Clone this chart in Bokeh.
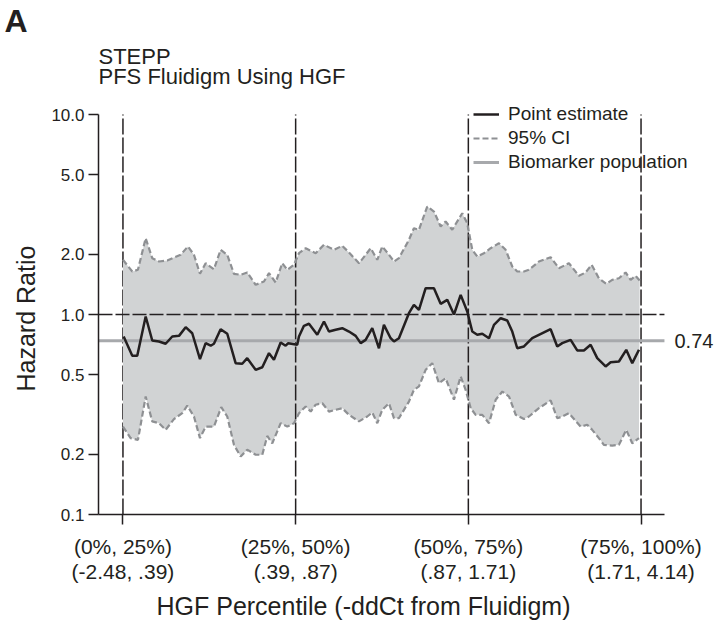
from bokeh.plotting import figure
from bokeh.models import (FixedTicker, Legend, LegendItem, Label, Title,
                          Range1d, PrintfTickFormatter)
from bokeh.embed import file_html
from bokeh.resources import INLINE

# ---------------- data ----------------
# x: subpopulation position on the percentile scale, y: hazard ratio
pe_x = [12.60, 13.85, 14.57, 15.79, 16.74, 17.71, 18.68, 19.64, 20.61, 21.58,
        22.53, 23.65, 24.47, 25.20, 25.67, 26.64, 27.60, 28.81, 29.77, 30.49,
        31.71, 32.67, 33.64, 34.36, 35.33, 36.05, 36.43, 37.73, 37.98, 38.70,
        39.43, 40.63, 41.60, 42.32, 43.29, 44.25, 45.22, 46.19, 46.91, 47.63,
        48.59, 49.56, 50.28, 51.25, 51.73, 52.45, 53.90, 54.62, 55.35, 56.32,
        57.52, 58.49, 59.45, 60.42, 61.39, 62.34, 63.07, 63.79, 64.52, 65.49,
        66.21, 67.18, 68.13, 68.86, 69.58, 70.55, 71.75, 74.41, 75.37, 76.09,
        77.31, 78.26, 79.23, 80.20, 81.16, 82.37, 83.10, 84.30, 85.36, 86.23, 87.20]
pe_hr = [0.776, 0.622, 0.622, 0.977, 0.741, 0.733, 0.714, 0.776, 0.782, 0.864,
         0.806, 0.598, 0.719, 0.698, 0.714, 0.844, 0.801, 0.571, 0.567, 0.605,
         0.529, 0.545, 0.641, 0.594, 0.724, 0.698, 0.719, 0.706, 0.776, 0.878,
         0.899, 0.792, 0.923, 0.822, 0.839, 0.854, 0.822, 0.782, 0.719, 0.747,
         0.854, 0.678, 0.888, 0.761, 0.733, 0.761, 1.015, 1.118, 1.056, 1.354,
         1.354, 1.131, 1.184, 1.000, 1.254, 1.035, 0.822, 0.792, 0.801, 0.761,
         0.888, 0.958, 0.933, 0.822, 0.678, 0.692, 0.761, 0.844, 0.692, 0.719,
         0.747, 0.661, 0.661, 0.706, 0.605, 0.550, 0.577, 0.582, 0.666, 0.571, 0.666]

ci_upper_x = [12.50, 13.85, 14.67, 15.79, 16.74, 17.71, 18.91, 19.88, 20.85, 21.91,
              22.78, 23.65, 24.47, 25.67, 26.64, 27.60, 28.57, 29.54, 30.49, 31.71,
              32.91, 33.64, 34.61, 35.56, 36.29, 37.26, 37.98, 38.95, 40.40, 41.60,
              43.05, 44.25, 45.22, 46.67, 47.64, 48.36, 49.32, 50.04, 51.01, 51.73,
              52.45, 53.90, 54.62, 55.35, 56.55, 57.52, 58.49, 59.21, 60.17, 61.62,
              62.34, 63.07, 63.79, 64.76, 65.73, 66.93, 67.90, 68.86, 69.58, 70.55,
              71.27, 72.72, 74.41, 75.61, 77.06, 78.51, 79.48, 80.35, 81.40, 82.46,
              83.33, 84.30, 85.27, 85.99, 86.71, 87.30]
ci_upper_hr = [1.877, 1.641, 1.673, 2.407, 1.912, 1.841, 1.862, 1.928, 1.989, 2.188,
               1.989, 1.598, 1.805, 1.684, 2.106, 1.989, 1.598, 1.580, 1.622, 1.408,
               1.462, 1.609, 1.445, 1.805, 1.673, 1.773, 2.025, 2.145, 2.025, 2.231,
               2.106, 2.206, 2.042, 1.805, 1.989, 2.145, 1.877, 2.188, 1.989, 1.841,
               1.912, 2.363, 2.701, 2.652, 3.467, 3.273, 2.754, 2.917, 2.652, 3.210,
               2.861, 2.106, 1.950, 2.025, 2.145, 2.272, 2.106, 1.738, 1.641, 1.641,
               1.673, 1.841, 1.934, 1.704, 1.805, 1.561, 1.622, 1.773, 1.518, 1.424,
               1.491, 1.518, 1.622, 1.491, 1.561, 1.479]

ci_lower_x = [12.50, 13.61, 14.67, 15.79, 16.74, 17.71, 18.68, 19.88, 21.08, 21.81,
              22.78, 23.65, 24.47, 25.67, 26.73, 27.60, 28.57, 29.54, 30.49, 31.71,
              32.67, 33.39, 34.12, 35.33, 36.29, 37.26, 37.98, 38.95, 39.68, 40.40,
              41.36, 42.32, 43.29, 44.25, 45.22, 46.67, 47.87, 48.59, 49.32, 50.04,
              51.01, 51.73, 52.45, 53.90, 54.62, 55.35, 56.32, 57.28, 58.25, 59.21,
              60.42, 61.39, 62.11, 62.84, 63.56, 64.52, 65.49, 66.46, 67.42, 68.39,
              69.36, 70.55, 71.27, 72.72, 74.41, 75.37, 76.09, 77.06, 78.75, 79.71,
              80.43, 81.40, 82.12, 83.33, 84.30, 85.36, 86.23, 87.20]
ci_lower_hr = [0.275, 0.241, 0.236, 0.389, 0.292, 0.286, 0.265, 0.300, 0.321, 0.350,
               0.309, 0.241, 0.275, 0.275, 0.344, 0.309, 0.223, 0.195, 0.211, 0.199,
               0.199, 0.247, 0.227, 0.286, 0.275, 0.286, 0.321, 0.347, 0.327, 0.354,
               0.360, 0.327, 0.334, 0.340, 0.315, 0.292, 0.309, 0.324, 0.286, 0.334,
               0.360, 0.303, 0.303, 0.367, 0.420, 0.437, 0.529, 0.571, 0.453, 0.480,
               0.375, 0.490, 0.420, 0.340, 0.315, 0.315, 0.286, 0.375, 0.412, 0.389,
               0.315, 0.300, 0.309, 0.340, 0.372, 0.303, 0.309, 0.321, 0.275, 0.281,
               0.265, 0.241, 0.223, 0.221, 0.223, 0.265, 0.227, 0.241]

group_centers = [12.5, 37.5, 62.5, 87.5]
group_percentiles = ["(0%, 25%)", "(25%, 50%)", "(50%, 75%)", "(75%, 100%)"]
group_ddct = ["(-2.48, .39)", "(.39, .87)", "(.87, 1.71)", "(1.71, 4.14)"]
hr_ticks = [0.1, 0.2, 0.5, 1.0, 2.0, 5.0, 10.0]
biomarker_hr = 0.74
reference_hr = 1.0
x_limits = (8.96, 90.89)      # extent of the x axis
y_limits = (0.1, 10.0)        # extent of the y axis
view_x = (8.96, 98.28)        # visible area (room for legend / annotation)
view_y = (0.1, 23.99)         # visible area (room for titles)

# ---------------- styling ----------------
INK = "#231f20"
BAND = "#d1d3d4"
CI_COL = "#8e9093"
BIO_COL = "#a7a9ac"
SANS = "Liberation Sans"

p = figure(frame_width=617, frame_height=476,
           x_range=Range1d(*view_x), y_range=Range1d(*view_y),
           y_axis_type="log", output_backend="svg", toolbar_location=None,
           min_border_left=94, min_border_right=0,
           min_border_top=0, min_border_bottom=0)
p.xgrid.visible = False
p.ygrid.visible = False
p.outline_line_color = None
p.background_fill_color = "white"
p.border_fill_color = "white"

# first group divider lies underneath the band
p.segment(x0=group_centers[:1], y0=[y_limits[0]], x1=group_centers[:1], y1=[y_limits[1]],
          line_color=INK, line_width=1.5, line_dash="16 3")

# CI band
p.patch(ci_upper_x + ci_lower_x[::-1], ci_upper_hr + ci_lower_hr[::-1],
        fill_color=BAND, line_color=None)

n_rest = len(group_centers) - 1
p.segment(x0=group_centers[1:], y0=[y_limits[0]] * n_rest,
          x1=group_centers[1:], y1=[y_limits[1]] * n_rest,
          line_color=INK, line_width=1.5, line_dash="16 3")

p.line(list(x_limits), [reference_hr, reference_hr], line_color=INK,
       line_width=1.5, line_dash="14 3")

bio = p.line(list(x_limits), [biomarker_hr, biomarker_hr], line_color=BIO_COL, line_width=3)
up = p.line(ci_upper_x, ci_upper_hr, line_color=CI_COL, line_width=2.2, line_dash="6 3")
lo = p.line(ci_lower_x, ci_lower_hr, line_color=CI_COL, line_width=2.2, line_dash="6 3")
pe = p.line(pe_x, pe_hr, line_color=INK, line_width=2.5)

legend = Legend(items=[LegendItem(label="Point estimate", renderers=[pe]),
                       LegendItem(label="95% CI", renderers=[up]),
                       LegendItem(label="Biomarker population", renderers=[bio])],
                location=(375, 341), padding=0, spacing=2, margin=0,
                label_height=20, glyph_height=20, glyph_width=26, label_standoff=9,
                border_line_alpha=0, background_fill_alpha=0,
                label_text_font=SANS, label_text_font_size="19px", label_text_color=INK)
p.add_layout(legend)

p.add_layout(Label(x=576, y=biomarker_hr, x_units="screen", y_units="data",
                   text=f"{biomarker_hr:.2f}", text_font=SANS, text_font_size="20px",
                   text_color=INK, text_baseline="middle"))

# left axis
ya = p.yaxis[0]
ya.bounds = y_limits
ya.ticker = FixedTicker(ticks=hr_ticks)
ya.formatter = PrintfTickFormatter(format="%.1f")
ya.minor_tick_line_color = None
ya.major_tick_in = 0
ya.major_tick_out = 10
ya.axis_line_width = 1.5
ya.axis_line_color = INK
ya.major_tick_line_width = 1.5
ya.major_tick_line_color = INK
ya.major_label_standoff = 4
ya.major_label_text_font = SANS
ya.major_label_text_font_size = "17px"
ya.major_label_text_color = INK

# bottom axis
xa = p.xaxis[0]
xa.bounds = x_limits
xa.ticker = FixedTicker(ticks=group_centers)
xa.major_label_overrides = {c: f"{a}\n{b}" for c, a, b in
                            zip(group_centers, group_percentiles, group_ddct)}
xa.minor_tick_line_color = None
xa.major_tick_in = 0
xa.major_tick_out = 10
xa.axis_line_width = 1.5
xa.axis_line_color = INK
xa.major_tick_line_width = 1.5
xa.major_tick_line_color = INK
xa.major_label_standoff = 10
xa.major_label_text_font = SANS
xa.major_label_text_font_size = "21px"
xa.major_label_text_line_height = 1.1
xa.major_label_text_color = INK

# axis titles (placed as side titles so they line up with the axis extents)
p.add_layout(Title(text="Hazard Ratio", align="left", offset=123, standoff=18,
                   text_font=SANS, text_font_size="25px", text_font_style="normal",
                   text_color=INK), "left")
p.add_layout(Title(text="HGF Percentile (-ddCt from Fluidigm)", align="left",
                   offset=58, standoff=8,
                   text_font=SANS, text_font_size="25px", text_font_style="normal",
                   text_color=INK), "below")

# panel letter and titles
p.add_layout(Title(text="A", align="left", offset=-94, standoff=0,
                   text_font=SANS, text_font_style="bold", text_font_size="32px",
                   text_color=INK), "above")
p.add_layout(Label(x=0, y=458, x_units="screen", y_units="screen", text="STEPP",
                   text_font=SANS, text_font_size="22px",
                   text_color=INK, text_baseline="alphabetic"))
p.add_layout(Label(x=0, y=438, x_units="screen", y_units="screen",
                   text="PFS Fluidigm Using HGF",
                   text_font=SANS, text_font_size="22px",
                   text_color=INK, text_baseline="alphabetic"))

open("out.html", "w").write(file_html(p, INLINE))
